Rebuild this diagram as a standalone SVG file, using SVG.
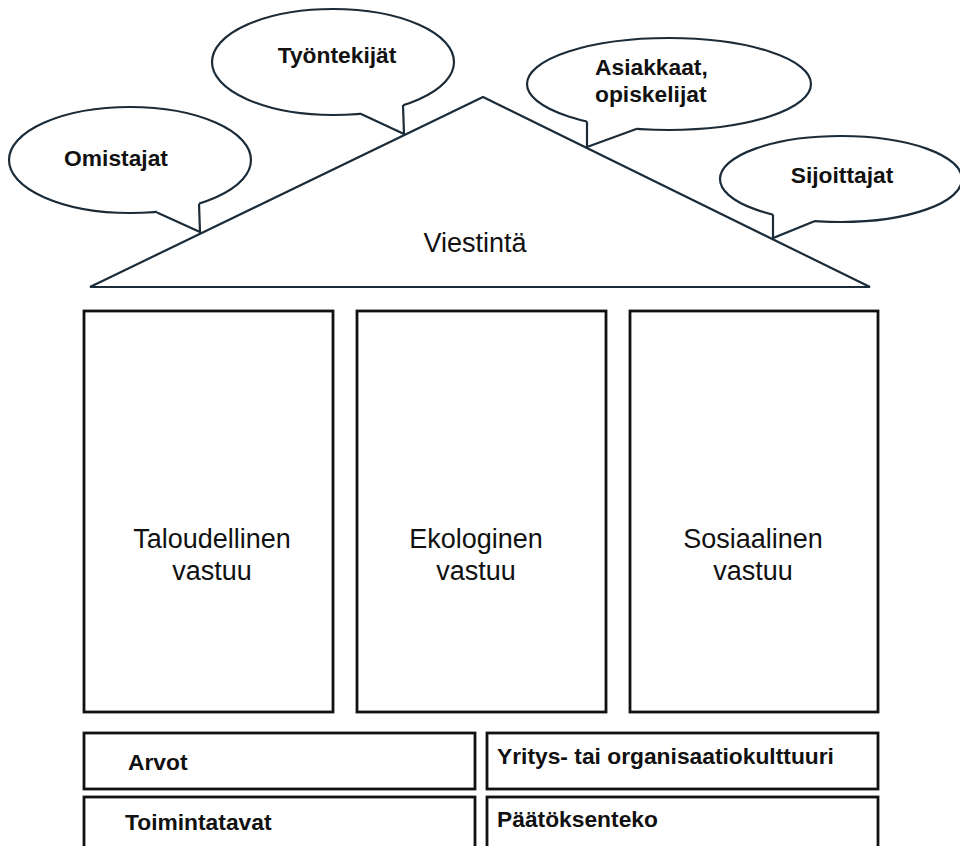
<svg xmlns="http://www.w3.org/2000/svg" width="960" height="846" viewBox="0 0 960 846">
<style>
.bub{fill:#fff;stroke:#1b2b38;stroke-width:2.2}
.cover{fill:#fff;stroke:none}
.tail{fill:none;stroke:#1b2b38;stroke-width:2.2;stroke-linejoin:miter}
.box{fill:#fff;stroke:#111;stroke-width:2.8}
.bt{font-family:"Liberation Sans",Arial,sans-serif;font-weight:bold;font-size:22.8px;fill:#111}
.rt{font-family:"Liberation Sans",Arial,sans-serif;font-size:27px;fill:#111}
.mid{text-anchor:middle}
</style>
<rect width="960" height="846" fill="#fff"/>
<g id="roof">
<polygon points="90,287 483,97 870,287" fill="#fff" stroke="#1b2b38" stroke-width="2.2"/>
<text class="rt mid" x="475" y="252">Viestintä</text>
</g>
<g id="omistajat">
<ellipse class="bub" cx="130" cy="160" rx="121" ry="53"/>
<polygon class="cover" points="157,208 157,213 200,232 199,204 199,198"/>
<polyline class="tail" points="157,212.5 200,232 199,203.8"/>
<text class="bt mid" x="116" y="166">Omistajat</text>
</g>
<g id="tyontekijat">
<ellipse class="bub" cx="333" cy="62" rx="121" ry="53"/>
<polygon class="cover" points="360,108 360,114 404,134 403,105 403,99"/>
<polyline class="tail" points="360,113.5 404,134 403,105"/>
<text class="bt mid" x="337" y="63">Työntekijät</text>
</g>
<g id="asiakkaat">
<ellipse class="bub" cx="669" cy="84" rx="142" ry="46"/>
<polygon class="cover" points="587,116 587,122 587,147 637,129 637,123"/>
<polyline class="tail" points="587,121.5 587,147 637,128.7"/>
<text class="bt" x="595" y="75">Asiakkaat,</text>
<text class="bt" x="595" y="102">opiskelijat</text>
</g>
<g id="sijoittajat">
<ellipse class="bub" cx="841" cy="179" rx="121" ry="43"/>
<polygon class="cover" points="773,209 773,215 773,238 815,221 815,215"/>
<polyline class="tail" points="773,214.5 773,238 815,221"/>
<text class="bt mid" x="842" y="183">Sijoittajat</text>
</g>
<g id="taloudellinen">
<rect class="box" x="84" y="311" width="249" height="401"/>
<text class="rt mid" x="212" y="548">Taloudellinen</text>
<text class="rt mid" x="212" y="580">vastuu</text>
</g>
<g id="ekologinen">
<rect class="box" x="357" y="311" width="249" height="401"/>
<text class="rt mid" x="476" y="548">Ekologinen</text>
<text class="rt mid" x="476" y="580">vastuu</text>
</g>
<g id="sosiaalinen">
<rect class="box" x="630" y="311" width="248" height="401"/>
<text class="rt mid" x="753" y="548">Sosiaalinen</text>
<text class="rt mid" x="753" y="580">vastuu</text>
</g>
<g id="arvot">
<rect class="box" x="84" y="733" width="391" height="56"/>
<text class="bt" x="128" y="770">Arvot</text>
</g>
<g id="yrityskulttuuri">
<rect class="box" x="487" y="733" width="391" height="56"/>
<text class="bt" x="497" y="764">Yritys- tai organisaatiokulttuuri</text>
</g>
<g id="toimintatavat">
<rect class="box" x="84" y="797" width="391" height="60"/>
<text class="bt" x="125" y="830">Toimintatavat</text>
</g>
<g id="paatoksenteko">
<rect class="box" x="487" y="797" width="391" height="60"/>
<text class="bt" x="497" y="827">Päätöksenteko</text>
</g>
<g id="connectors"/>
</svg>
